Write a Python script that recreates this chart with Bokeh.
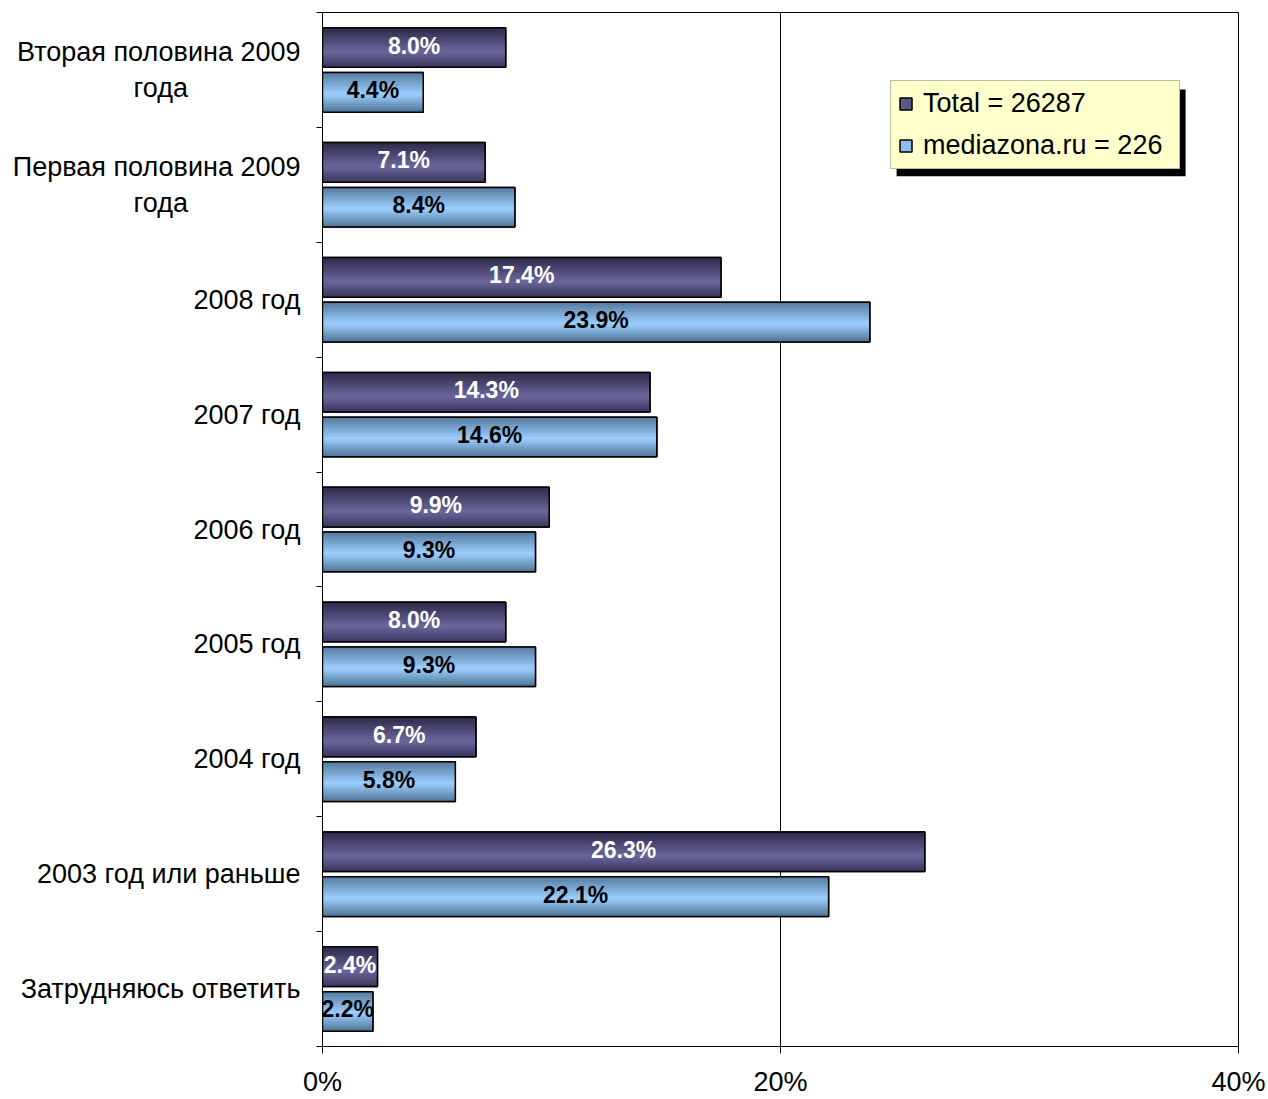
from bokeh.plotting import figure
from bokeh.models import (Range1d, FixedTicker, PrintfTickFormatter, Legend, LegendItem,
                          BoxAnnotation, ColumnDataSource)
from bokeh.core.properties import value
from bokeh.embed import file_html
from bokeh.resources import INLINE

NB = "\u00a0" * 15
categories = ["Вторая половина 2009\n" + "года" + NB, "Первая половина 2009\n" + "года" + NB,
              "2008 год", "2007 год", "2006 год", "2005 год", "2004 год",
              "2003 год или раньше", "Затрудняюсь ответить"]
total = [8.0, 7.1, 17.4, 14.3, 9.9, 8.0, 6.7, 26.3, 2.4]
mediazona = [4.4, 8.4, 23.9, 14.6, 9.3, 9.3, 5.8, 22.1, 2.2]
series_names = ["Total = 26287", "mediazona.ru = 226"]
x_ticks = [0, 20, 40]

FONT = "Liberation Sans"
n = len(categories)
centers = [i + 0.5 for i in range(n)]
OFF = 0.195
H = 0.345

p = figure(width=1266, height=1099, output_backend="svg", toolbar_location=None,
           x_range=Range1d(0, 40), y_range=Range1d(n, 0),
           min_border_left=322, min_border_right=28, min_border_top=12, min_border_bottom=51)
p.background_fill_color = "white"
p.border_fill_color = "white"
p.outline_line_color = "black"
p.outline_line_width = 1

# axes
p.xaxis.ticker = FixedTicker(ticks=x_ticks, minor_ticks=[])
p.xaxis.formatter = PrintfTickFormatter(format="%d%%")
p.xaxis.major_tick_out = 7
p.xaxis.major_tick_in = 0
p.xaxis.minor_tick_out = 0
p.xaxis.axis_line_color = "black"
p.xaxis.major_tick_line_color = "black"
p.xaxis.major_label_text_font = FONT
p.xaxis.major_label_text_font_size = "27px"
p.xaxis.major_label_text_line_height = 1.0
p.xaxis.major_label_text_color = "black"
p.xaxis.major_label_standoff = 13

p.yaxis.ticker = FixedTicker(ticks=centers, minor_ticks=list(range(n + 1)))
p.yaxis.major_label_overrides = {c: lab for c, lab in zip(centers, categories)}
p.yaxis.major_tick_out = 0
p.yaxis.major_tick_in = 0
p.yaxis.minor_tick_out = 6
p.yaxis.minor_tick_in = 0
p.yaxis.minor_tick_line_color = "black"
p.yaxis.axis_line_color = "black"
p.yaxis.major_label_text_font = FONT
p.yaxis.major_label_text_font_size = "27px"
p.yaxis.major_label_text_color = "black"
p.yaxis.major_label_standoff = 16

p.xgrid.ticker = FixedTicker(ticks=x_ticks)
p.xgrid.grid_line_color = "black"
p.xgrid.grid_line_width = 1
p.ygrid.grid_line_color = None


def hex2rgb(h):
    h = h.lstrip("#")
    return [int(h[i:i + 2], 16) for i in (0, 2, 4)]


def grad(stops, t):
    for (t0, c0), (t1, c1) in zip(stops, stops[1:]):
        if t0 <= t <= t1:
            f = (t - t0) / (t1 - t0) if t1 > t0 else 0
            a, b = hex2rgb(c0), hex2rgb(c1)
            return "#%02x%02x%02x" % tuple(int(round(a[i] + (b[i] - a[i]) * f)) for i in range(3))
    return stops[-1][1]


stops_total = [(0.0, "#2c2848"), (0.62, "#6b679b"), (1.0, "#3a365e")]
stops_media = [(0.0, "#52789c"), (0.55, "#9dcfff"), (1.0, "#4f7596")]

NS = 16
base_renderers = []
for vals, off, stops, mid, tcolor in [(total, -OFF, stops_total, "#5b5788", "white"),
                                      (mediazona, OFF, stops_media, "#8fbfee", "black")]:
    ys = [c + off for c in centers]
    src = ColumnDataSource(dict(y=ys, right=vals, xm=[v / 2 for v in vals],
                                lab=["%.1f%%" % v for v in vals]))
    base = p.hbar(y="y", right="right", left=0, height=H, source=src,
                  fill_color=mid, line_color="black", line_width=1.5)
    base_renderers.append(base)
    for k in range(NS):
        t = (k + 0.5) / NS
        sy = [y - H / 2 + (k + 0.5) * H / NS for y in ys]
        p.hbar(y=sy, right=vals, left=0, height=H / NS * 1.3,
               fill_color=grad(stops, t), line_color=None)
    p.hbar(y="y", right="right", left=0, height=H, source=src,
           fill_alpha=0, line_color="black", line_width=1.5)
    p.text(x="xm", y="y", text="lab", source=src, text_align="center", text_baseline="middle",
           text_font=value(FONT), text_font_style="bold", text_font_size="23px", text_color=tcolor,
           y_offset=-2)

# legend shadow + legend
shadow = BoxAnnotation(left=25.07, right=37.69, top=0.67, bottom=1.425,
                       fill_color="black", fill_alpha=1, line_color=None)
p.add_layout(shadow)

legend = Legend(items=[LegendItem(label=series_names[0], renderers=[base_renderers[0]]),
                       LegendItem(label=series_names[1], renderers=[base_renderers[1]])],
                location=(568, 877))
legend.background_fill_color = "#ffffcc"
legend.background_fill_alpha = 1
legend.border_line_color = "#777777"
legend.border_line_width = 1
legend.label_text_font = FONT
legend.label_text_font_size = "27px"
legend.label_text_color = "black"
legend.glyph_width = 15
legend.glyph_height = 15
legend.label_standoff = 10
legend.padding = 7
legend.spacing = 11
legend.label_height = 28
legend.label_width = 249
legend.margin = 0
p.add_layout(legend)

open("out.html", "w").write(file_html(p, INLINE))
